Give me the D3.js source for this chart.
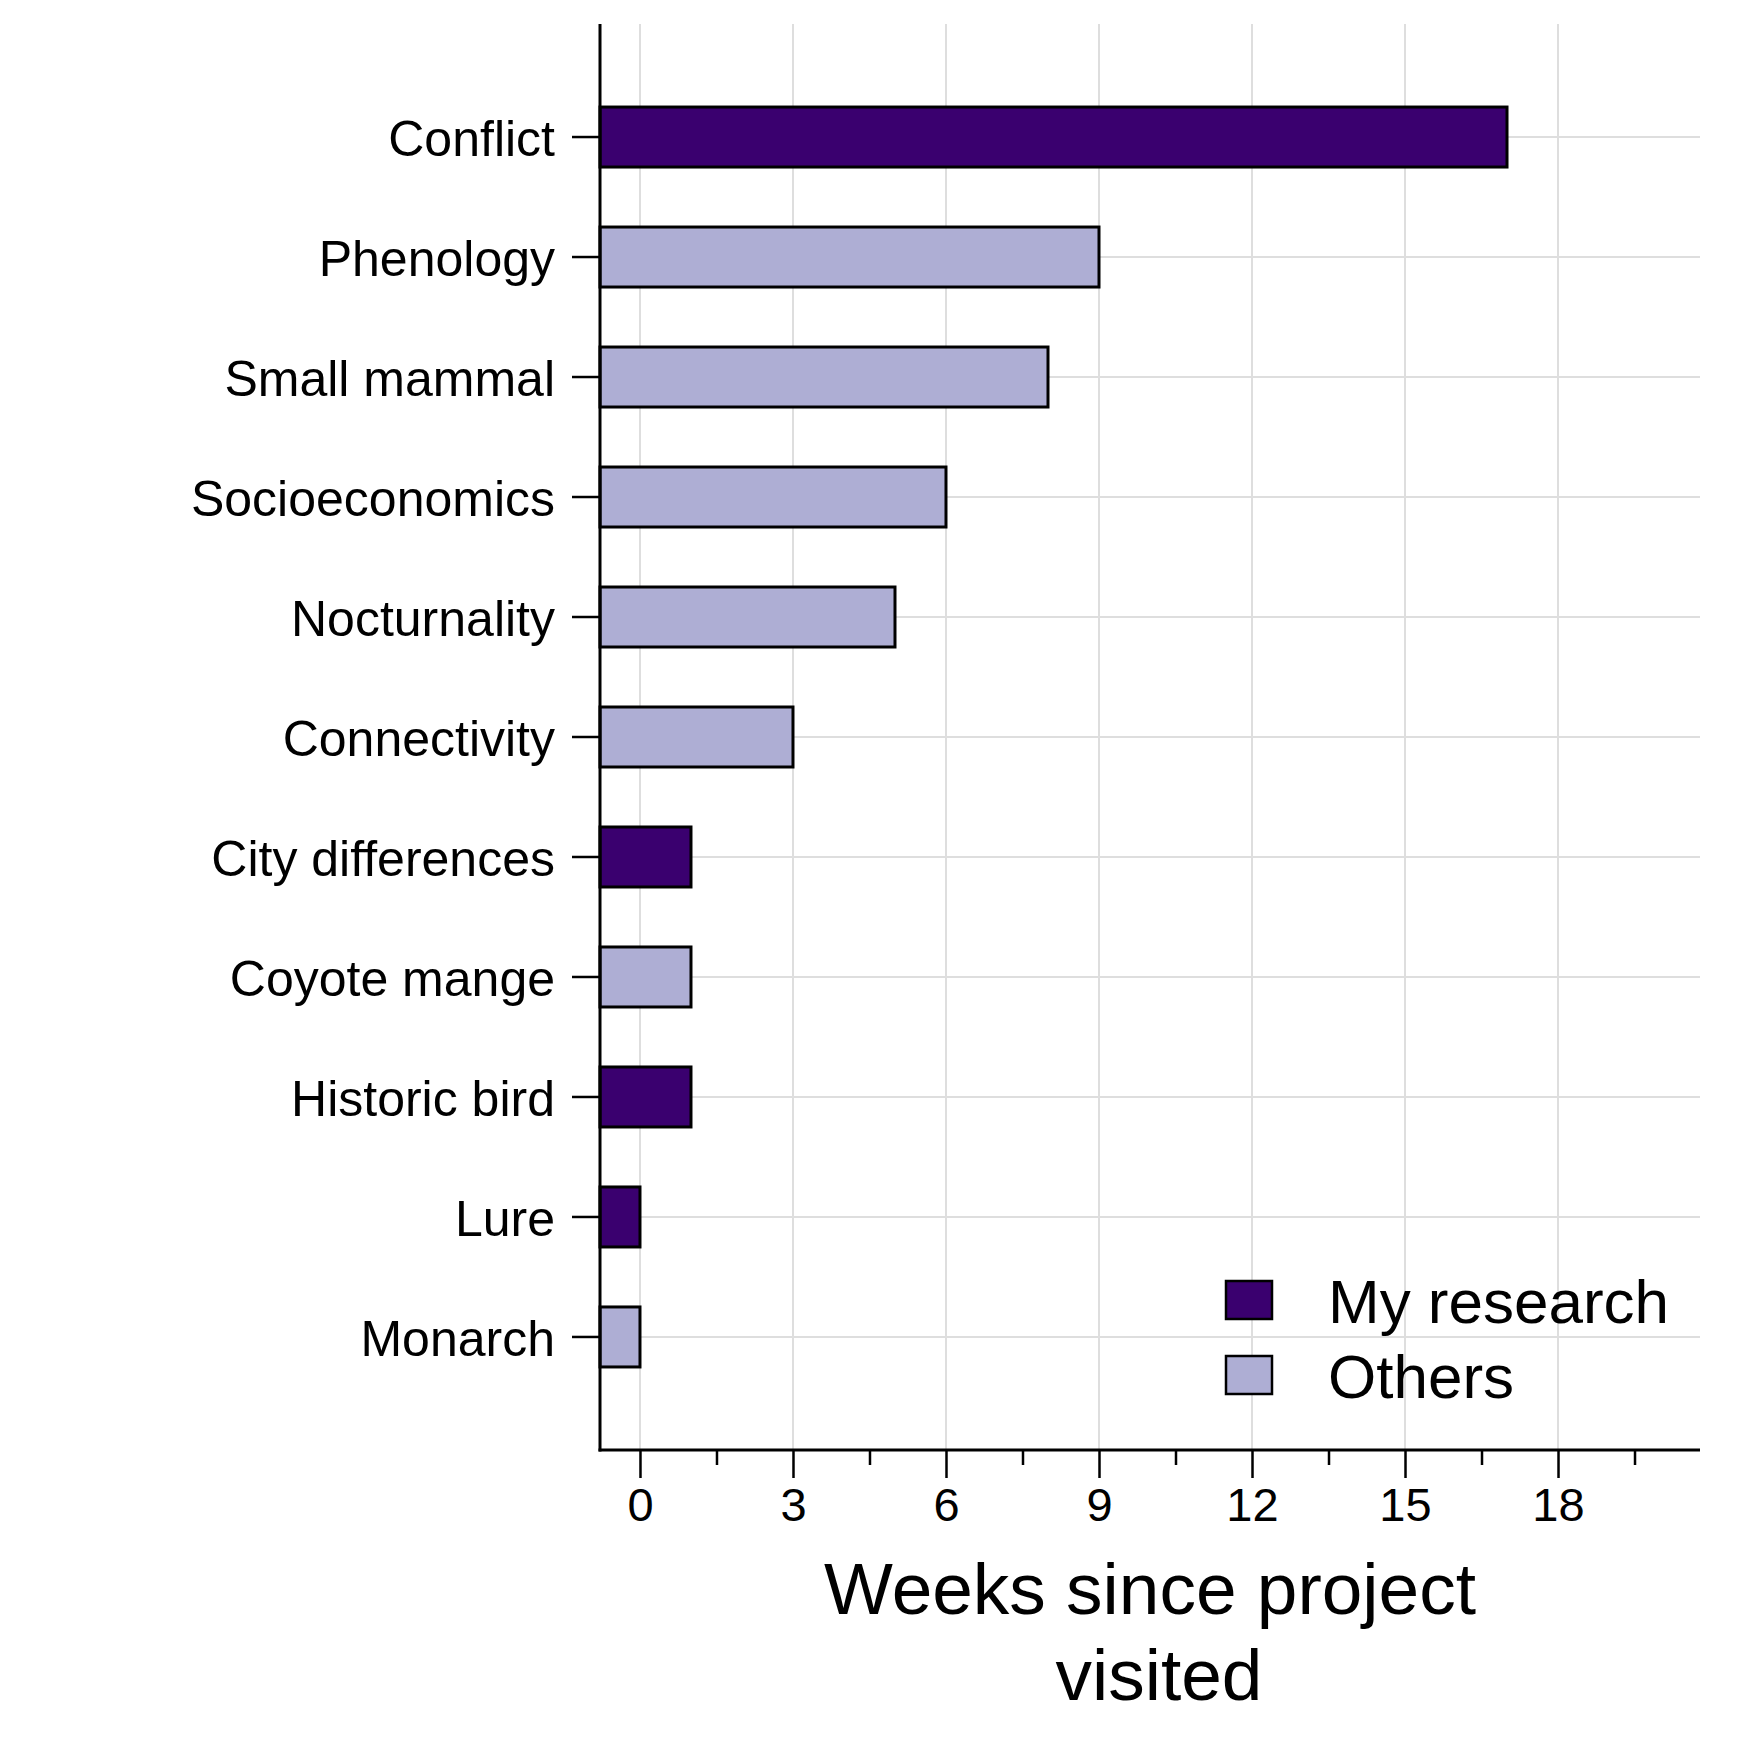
<!DOCTYPE html>
<html>
<head>
<meta charset="utf-8">
<script src="https://cdn.jsdelivr.net/npm/d3@7"></script>
<style>
  html, body { margin: 0; padding: 0; background: #fff; }
  svg { display: block; font-family: "Liberation Sans", Arial, sans-serif; }
</style>
</head>
<body>
<svg id="chart" width="1750" height="1750"></svg>
<script>
const categories = ["Conflict", "Phenology", "Small mammal", "Socioeconomics", "Nocturnality",
  "Connectivity", "City differences", "Coyote mange", "Historic bird", "Lure", "Monarch"];
const weeks = [17, 9, 8, 6, 5, 3, 1, 1, 1, 0, 0];
const groups = ["My research", "Others", "Others", "Others", "Others",
  "Others", "My research", "Others", "My research", "My research", "Others"];
const legendLabels = ["My research", "Others"];
const legendColors = ["#3a006f", "#aeaed4"];
const majorTicks = [0, 3, 6, 9, 12, 15, 18];
const minorTicks = [1.5, 4.5, 7.5, 10.5, 13.5, 16.5, 19.5];
const xTitleLines = ["Weeks since project", "visited"];

(function () {
const svg = d3.select("#chart");
const pLeft = 600, pRight = 1700, pTop = 24, pBottom = 1450;

const x = d3.scaleLinear().domain([-0.784, 20.784]).range([pLeft, pRight]);
const y = d3.scaleBand().domain(categories).range([pTop, pBottom])
  .paddingInner(0.5).paddingOuter(0.692);
const color = d3.scaleOrdinal().domain(legendLabels).range(legendColors);

const grid = svg.append("g");
grid.selectAll("line.v").data(majorTicks).join("line")
  .attr("class", "v")
  .attr("x1", d => x(d)).attr("x2", d => x(d))
  .attr("y1", pTop).attr("y2", pBottom)
  .attr("stroke", "#dedede").attr("stroke-width", 2);
grid.selectAll("line.h").data(categories).join("line")
  .attr("class", "h")
  .attr("x1", pLeft).attr("x2", pRight)
  .attr("y1", d => y(d) + y.bandwidth() / 2).attr("y2", d => y(d) + y.bandwidth() / 2)
  .attr("stroke", "#dedede").attr("stroke-width", 2);

const data = categories.map((c, i) => ({ c, v: weeks[i], g: groups[i] }));
svg.append("g").selectAll("rect").data(data).join("rect")
  .attr("x", pLeft)
  .attr("y", d => y(d.c))
  .attr("width", d => x(d.v) - pLeft)
  .attr("height", y.bandwidth())
  .attr("fill", d => color(d.g))
  .attr("stroke", "#000").attr("stroke-width", 3);

const xAxis = svg.append("g").attr("transform", `translate(0,${pBottom})`)
  .call(d3.axisBottom(x).tickValues(majorTicks).tickSize(28).tickPadding(10).tickFormat(d3.format("d")));
xAxis.select(".domain").remove();
xAxis.selectAll(".tick line").attr("stroke", "#000").attr("stroke-width", 2.5);
xAxis.selectAll(".tick text").attr("font-size", 47).attr("fill", "#000")
  .attr("font-family", "Liberation Sans, Arial, sans-serif");

const xMinor = svg.append("g").attr("transform", `translate(0,${pBottom})`)
  .call(d3.axisBottom(x).tickValues(minorTicks).tickSize(15).tickFormat(""));
xMinor.select(".domain").remove();
xMinor.selectAll(".tick line").attr("stroke", "#000").attr("stroke-width", 2.5);

const yAxis = svg.append("g").attr("transform", `translate(${pLeft},0)`)
  .call(d3.axisLeft(y).tickSize(28).tickPadding(17));
yAxis.select(".domain").remove();
yAxis.selectAll(".tick line").attr("stroke", "#000").attr("stroke-width", 2.5);
yAxis.selectAll(".tick text").attr("font-size", 50).attr("fill", "#000")
  .attr("dy", "0.38em")
  .attr("font-family", "Liberation Sans, Arial, sans-serif");

svg.append("line").attr("x1", pLeft).attr("x2", pLeft).attr("y1", pTop).attr("y2", pBottom + 1.5)
  .attr("stroke", "#000").attr("stroke-width", 3);
svg.append("line").attr("x1", pLeft - 1.5).attr("x2", pRight).attr("y1", pBottom).attr("y2", pBottom)
  .attr("stroke", "#000").attr("stroke-width", 3);

svg.append("text").attr("text-anchor", "middle").attr("font-size", 73).attr("fill", "#000")
  .selectAll("tspan").data(xTitleLines).join("tspan")
  .attr("x", (d, i) => (pLeft + pRight) / 2 + (i === 1 ? 9 : 0))
  .attr("y", (d, i) => 1614 + i * 86)
  .text(d => d);

const leg = svg.append("g");
legendLabels.forEach((lab, i) => {
  const yy = 1281 + i * 75;
  leg.append("rect").attr("x", 1226).attr("y", yy).attr("width", 46).attr("height", 38)
    .attr("fill", legendColors[i]).attr("stroke", "#000").attr("stroke-width", 2.5);
  leg.append("text").attr("x", 1328).attr("y", yy + 42).attr("font-size", 62)
    .attr("fill", "#000").text(lab);
});
})();
</script>
</body>
</html>
